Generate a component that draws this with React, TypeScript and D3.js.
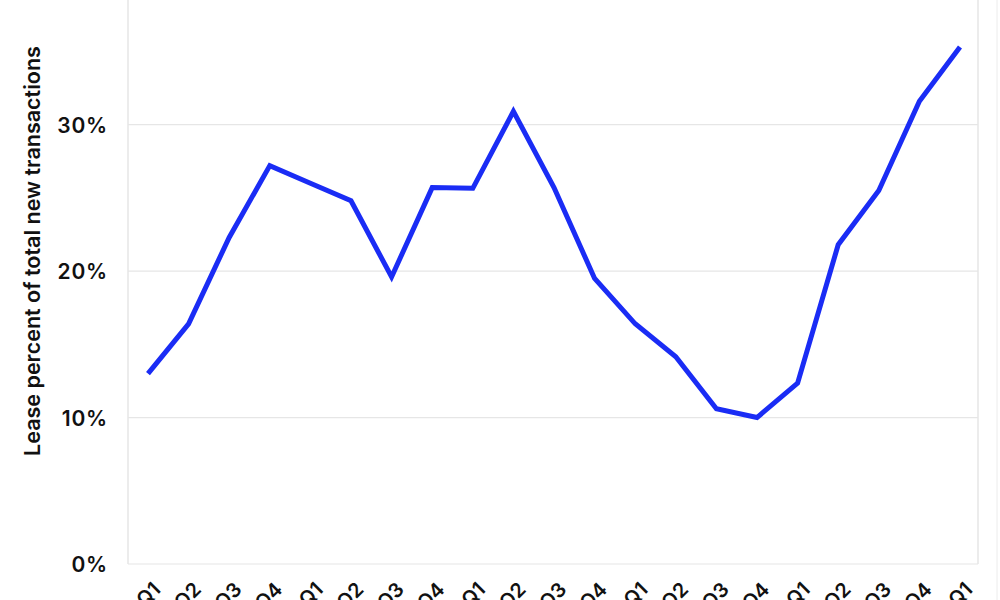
import React from "react";
import * as d3 from "d3";

const quarters = ["Q1","Q2","Q3","Q4","Q1","Q2","Q3","Q4","Q1","Q2","Q3","Q4","Q1","Q2","Q3","Q4","Q1","Q2","Q3","Q4","Q1"];
const leaseShare = [0.130,0.164,0.223,0.272,0.260,0.248,0.196,0.257,0.2565,0.309,0.257,0.195,0.164,0.1415,0.106,0.100,0.1235,0.218,0.255,0.316,0.353];
const yTicks = [0, 0.1, 0.2, 0.3];
const yTitle = "Lease percent of total new transactions";

const W = 1000, H = 600;
const left = 128, right = 978, bottom = 564;
const font = "Inter, 'Open Sans', sans-serif";

export default function App() {
  const x = d3.scalePoint<number>().domain(d3.range(quarters.length)).range([148, 960]);
  const y = d3.scaleLinear().domain([0, 0.4]).range([bottom, bottom - 0.4 * 1464.6]);
  const line = d3.line<number>().x((_, i) => x(i)!).y(d => y(d));
  return (
    <svg width={W} height={H} style={{ position: "absolute", left: 0, top: 0, background: "#fff" }}>
      <line x1={left} x2={left} y1={0} y2={bottom} stroke="#e6e6e6" strokeWidth={1.5} />
      <line x1={right} x2={right} y1={0} y2={bottom} stroke="#e6e6e6" strokeWidth={1.5} />
      <line x1={997} x2={997} y1={0} y2={H} stroke="#ececec" strokeWidth={1} />
      {yTicks.map(t => (
        <g key={t}>
          <line x1={left} x2={right} y1={y(t)} y2={y(t)} stroke="#e6e6e6" strokeWidth={1.2} />
          <text x={108} y={y(t) + 8} textAnchor="end" fontFamily={font} fontWeight={600} fontSize={21} letterSpacing={0.8} fill="#111">
            {d3.format(".0%")(t)}
          </text>
        </g>
      ))}
      <text transform={`translate(40, 251) rotate(-90)`} textAnchor="middle" fontFamily={font} fontWeight={600} fontSize={21.5} fill="#111">
        {yTitle}
      </text>
      {quarters.map((q, i) => (
        <text key={i} transform={`translate(${x(i)! + 3}, 580) rotate(-45)`} textAnchor="end" dominantBaseline="hanging"
          fontFamily={font} fontWeight={600} fontSize={20} fill="#111">{q}</text>
      ))}
      <path d={line(leaseShare) || ""} fill="none" stroke="#1a2cf5" strokeWidth={5} strokeLinejoin="miter" />
    </svg>
  );
}
